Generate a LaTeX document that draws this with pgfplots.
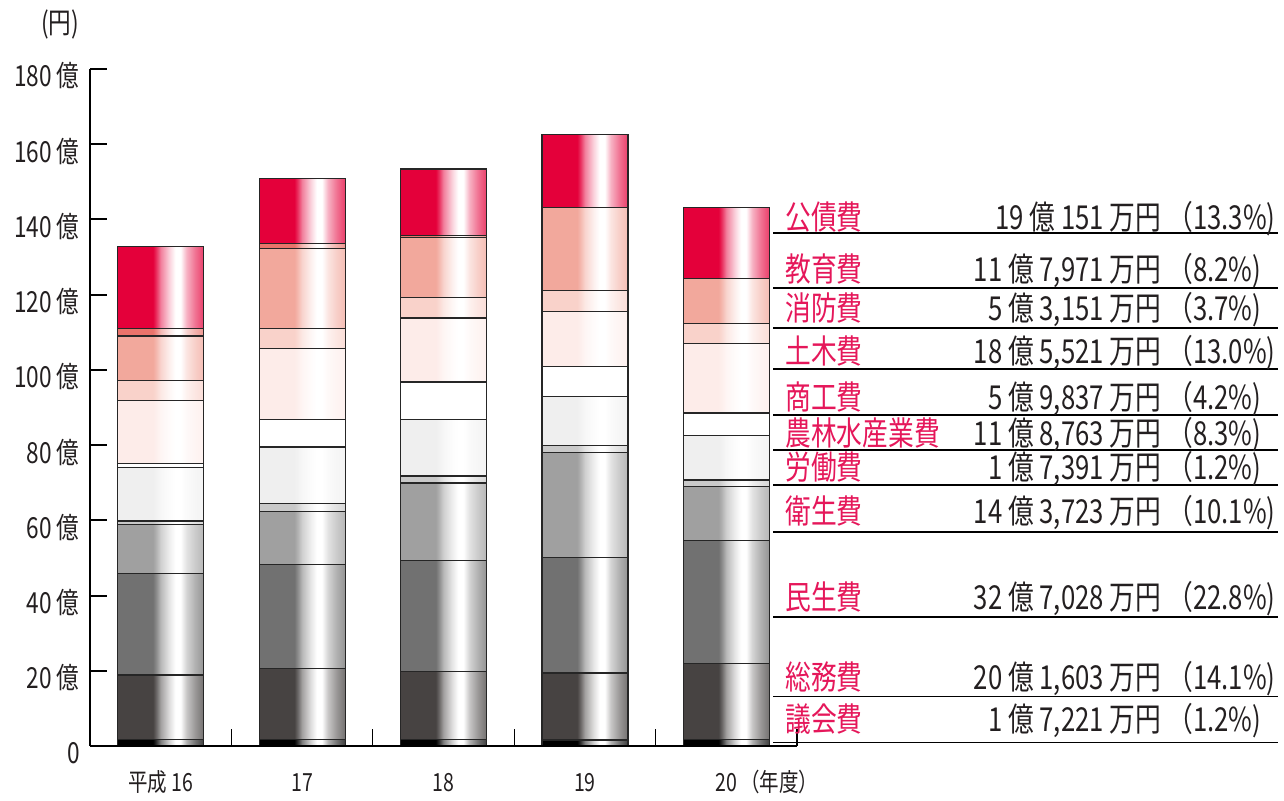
\documentclass[border=0pt]{standalone}
\usepackage{pgfplots}
\pgfplotsset{compat=1.18}
\usepackage{pgfplotstable}
\usepackage{fontspec}
\newfontfamily\jp[FakeStretch=0.78]{Noto Sans CJK JP}

% segment colours, bottom to top
\definecolor{cGikai}{HTML}{000000}
\definecolor{cSoumu}{HTML}{474342}
\definecolor{cMinsei}{HTML}{717171}
\definecolor{cEisei}{HTML}{A0A0A0}
\definecolor{cRoudou}{HTML}{C9C9C9}
\definecolor{cNourin}{HTML}{EFEFEF}
\definecolor{cShoukou}{HTML}{FFFFFF}
\definecolor{cDoboku}{HTML}{FDECE9}
\definecolor{cShoubou}{HTML}{F9D2CA}
\definecolor{cKyouiku}{HTML}{F2A89C}
\definecolor{cSonota}{HTML}{E9736B}
\definecolor{cKousai}{HTML}{E4003A}
\definecolor{labred}{HTML}{E5175A}
\definecolor{valtxt}{HTML}{231F20}

% cylinder-like horizontal shading: solid on the left, highlight, lighter right edge
\newcommand\barshade[2]{%
  \pgfdeclarehorizontalshading{#1}{100bp}{%
    color(0bp)=(#2); color(45.5bp)=(#2); color(47.5bp)=(#2!80!white);
    color(50bp)=(#2!50!white); color(55bp)=(#2!18!white);
    color(58.5bp)=(white); color(61.5bp)=(white);
    color(65bp)=(#2!30!white); color(70bp)=(#2!55!white);
    color(75bp)=(#2!75!white); color(100bp)=(#2!75!white)}}
\barshade{shGikai}{cGikai}
\barshade{shSoumu}{cSoumu}
\barshade{shMinsei}{cMinsei}
\barshade{shEisei}{cEisei}
\barshade{shRoudou}{cRoudou}
\barshade{shNourin}{cNourin}
\barshade{shShoukou}{cShoukou}
\barshade{shDoboku}{cDoboku}
\barshade{shShoubou}{cShoubou}
\barshade{shKyouiku}{cKyouiku}
\barshade{shSonota}{cSonota}
\barshade{shKousai}{cKousai}

% 歳出（億円）：年度ごと
\pgfplotstableread{
x gikai soumu minsei eisei roudou nourin shoukou doboku shoubou kyouiku sonota kousai
0 1.7 17.2 26.9 13.1 0.9 14.3 1.0 16.7 5.4 11.8 1.9 21.9
}\yrA
\pgfplotstableread{
x gikai soumu minsei eisei roudou nourin shoukou doboku shoubou kyouiku sonota kousai
1 1.7 19.0 27.5 14.2 2.0 15.1 7.3 18.8 5.5 21.1 1.4 17.25
}\yrB
\pgfplotstableread{
x gikai soumu minsei eisei roudou nourin shoukou doboku shoubou kyouiku sonota kousai
2 1.7 18.1 29.5 20.6 1.9 15.1 9.9 17.0 5.5 16.0 0.5 17.6
}\yrC
\pgfplotstableread{
x gikai soumu minsei eisei roudou nourin shoukou doboku shoubou kyouiku sonota kousai
3 1.6 17.8 30.8 27.9 1.7 13.2 8.0 14.6 5.5 22.0 0 19.45
}\yrD
\pgfplotstableread{
x gikai soumu minsei eisei roudou nourin shoukou doboku shoubou kyouiku sonota kousai
4 1.7221 20.1603 32.7028 14.3723 1.7391 11.8763 5.9837 18.5521 5.3151 11.7971 0 19.0151
}\yrE

\pgfplotsset{
  frame/.style={at={(45pt,27.5pt)}, anchor=south west,
    scale only axis, width=353.5pt, height=338.5pt,
    xmin=-0.5, xmax=4.5, ymin=0, ymax=180},
  seg/.style={draw=black!85, line width=0.6pt, shading=#1, shade},
}
% one stacked column in its own axis, so that each shading fits one bar
\newcommand\column[1]{%
  \begin{axis}[frame, hide axis, ybar stacked, bar width=43pt]
  \addplot[seg=shGikai]   table[x=x,y=gikai]{#1};
  \addplot[seg=shSoumu]   table[x=x,y=soumu]{#1};
  \addplot[seg=shMinsei]  table[x=x,y=minsei]{#1};
  \addplot[seg=shEisei]   table[x=x,y=eisei]{#1};
  \addplot[seg=shRoudou]  table[x=x,y=roudou]{#1};
  \addplot[seg=shNourin]  table[x=x,y=nourin]{#1};
  \addplot[seg=shShoukou] table[x=x,y=shoukou]{#1};
  \addplot[seg=shDoboku]  table[x=x,y=doboku]{#1};
  \addplot[seg=shShoubou] table[x=x,y=shoubou]{#1};
  \addplot[seg=shKyouiku] table[x=x,y=kyouiku]{#1};
  \addplot[seg=shSonota]  table[x=x,y=sonota]{#1};
  \addplot[seg=shKousai]  table[x=x,y=kousai]{#1};
  \end{axis}}

\newcommand\tablefont{\jp\fontsize{16.5}{18}\selectfont}
\newcommand\row[5]{%
  \draw[line width=0.8pt] (386.5,#4) -- (639,#4);
  \node[anchor=base west, inner sep=0pt, text=labred, font=\tablefont] at (392.5,#5) {#1};
  \node[anchor=base east, inner sep=0pt, text=valtxt, font=\tablefont] at (580.8,#5) {#2};
  \node[anchor=base west, inner sep=0pt, text=valtxt, font=\tablefont] at (583.5,#5) {（#3\%)};}

\begin{document}
\begin{tikzpicture}[x=1pt,y=1pt]
\path[use as bounding box] (0,0) rectangle (642,400.5);

\column{\yrA}
\column{\yrB}
\column{\yrC}
\column{\yrD}
\column{\yrE}

% axes, ticks and tick labels
\begin{axis}[
  frame,
  axis x line=bottom, axis y line=left,
  axis line style={-, line width=0.8pt},
  tick align=inside, major tick length=8.5pt,
  ytick={0,20,...,180},
  yticklabels={0,20 億,40 億,60 億,80 億,100 億,120 億,140 億,160 億,180 億},
  ytick style={line width=1pt, black},
  yticklabel style={font=\jp\fontsize{14.5}{15}\selectfont, text=valtxt, inner sep=0pt, xshift=-5pt, yshift=-3.5pt},
  xtick={0.5,1.5,2.5,3.5,4.5},
  xticklabels={},
  xtick style={line width=0.6pt, black},
  extra x ticks={0,1,2,3,4},
  extra x tick labels={平成 16,17,18,19,20},
  extra x tick style={major tick length=0pt},
  xticklabel style={font=\jp\fontsize{12.5}{13}\selectfont, text=valtxt, anchor=base, yshift=-23pt},
]
\addplot[draw=none] coordinates {(0,0)};
\end{axis}

% unit and year captions
\node[font=\jp\fontsize{14.5}{15}\selectfont, text=valtxt] at (30,388.5) {(円)};
\node[anchor=base west, inner sep=0pt, font=\jp\fontsize{12.5}{13}\selectfont, text=valtxt] at (370,4.5) {（年度）};

% 平成20年度の内訳
\row{公債費}{19 億 151 万円}{13.3}{283.85}{285.75}
\row{教育費}{11 億 7,971 万円}{8.2}{256.35}{259.65}
\row{消防費}{5 億 3,151 万円}{3.7}{236.35}{240}
\row{土木費}{18 億 5,521 万円}{13.0}{215.85}{218.85}
\row{商工費}{5 億 9,837 万円}{4.2}{192.85}{195.5}
\row{農林水産業費}{11 億 8,763 万円}{8.3}{175.5}{177.5}
\row{労働費}{1 億 7,391 万円}{1.2}{158.1}{160.5}
\row{衛生費}{14 億 3,723 万円}{10.1}{134.35}{138.5}
\row{民生費}{32 億 7,028 万円}{22.8}{91.85}{95.5}
\row{総務費}{20 億 1,603 万円}{14.1}{52.15}{55.85}
\row{議会費}{1 億 7,221 万円}{1.2}{29.15}{34.65}
\end{tikzpicture}
\end{document}
